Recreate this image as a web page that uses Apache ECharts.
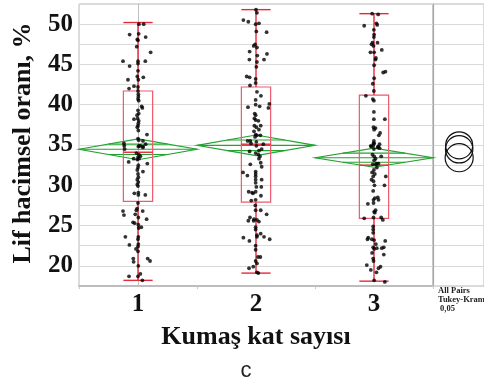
<!DOCTYPE html>
<html>
<head>
<meta charset="utf-8">
<script src="https://cdn.jsdelivr.net/npm/echarts@6/dist/echarts.min.js"></script>
<style>
  html, body { margin: 0; padding: 0; background: #fff; }
  #chart { width: 484px; height: 385px; }
</style>
</head>
<body>
<div id="chart"></div>
<script>
// Groups on the x axis (number of fabric layers)
const categories = ['1', '2', '3'];

// Value axis range and tick step (labels every second tick)
const yMin = 17.5;
const yMax = 52.5;
const yStep = 2.5;

// Five-number summaries per group: [min, Q1, median, Q3, max]
const boxStats = [
  [18.2, 28.0, 34.1, 41.7, 50.2],
  [19.1, 27.9, 35.1, 42.2, 51.8],
  [18.1, 25.9, 32.5, 41.2, 51.3]
];

// Group means, 95% CI half-widths (diamonds) and overlap-mark offsets
const groupMeans = [34.47, 34.96, 33.42];
const ciHalfWidth = [1.30, 1.28, 1.18];
const overlapOffset = [0.65, 0.66, 0.56];

// Tukey-Kramer comparison circle radii (value units)
const circleRadius = [1.70, 1.68, 1.74];

// Observations per group, with the horizontal jitter used to draw them
const g1Values = [50.0, 50.0, 48.7, 48.8, 48.4, 48.1, 48.0, 47.2, 46.5, 45.4, 45.4, 45.4, 45.1, 44.8, 44.2,
  43.1, 43.5, 43.1, 43.4, 42.3, 42.0, 42.2, 41.7, 41.3, 41.0, 40.7, 40.5, 39.8, 39.6, 39.3, 38.9, 38.7,
  38.2, 38.3, 38.0, 37.7, 37.4, 37.2, 36.8, 36.3, 35.8, 35.6, 35.5, 35.1, 34.9, 34.8, 34.8, 34.9, 35.2,
  34.9, 34.7, 34.5, 34.0, 33.8, 33.6, 33.5, 33.3, 33.2, 33.3, 32.9, 32.7, 32.5, 32.2, 31.9, 31.4, 31.7,
  31.0, 30.7, 30.4, 30.1, 29.9, 29.0, 29.1, 28.8, 28.8, 27.8, 27.1, 26.9, 26.8, 26.8, 26.3, 26.4, 26.0,
  25.8, 25.4, 25.3, 25.1, 24.7, 24.8, 23.6, 23.6, 23.3, 22.6, 22.7, 22.4, 22.1, 21.8, 20.9, 20.9, 20.6,
  20.5, 20.0, 19.0, 18.7, 18.7, 18.2];
const g1Jitter = [0.008, 0.048, -0.071, 0.006, 0.065, -0.006, 0, -0.011, 0.107, -0.127, 0, 0.062, 0, -0.071, 0,
  -0.085, -0.006, 0.003, 0.045, -0.034, -0.076, 0, 0, 0.003, 0.003, 0, 0.006, 0.031, 0.037, 0, 0.006, -0.008,
  -0.034, -0.003, 0.006, 0.003, 0, -0.006, 0.003, 0.076, 0, 0.006, 0.042, 0.065, -0.116, 0.003, 0.042, 0.02, -0.119,
  0.008, 0.042, -0.113, -0.014, 0.008, 0.02, 0, -0.037, -0.006, 0.008, -0.079, 0.079, 0.003, 0, -0.006, 0, 0.042,
  0.003, -0.006, 0.003, -0.006, 0, -0.031, 0.003, 0.062, 0.003, 0, -0.008, -0.014, -0.127, 0.04, -0.119, -0.023, 0.003,
  0.073, -0.042, -0.028, 0.003, 0.006, 0.028, -0.107, 0.003, 0, -0.073, 0.003, 0, -0.017, 0, -0.04, 0.082, 0.102,
  -0.037, 0.003, 0.02, -0.076, 0, 0.037];

const g2Values = [51.8, 51.4, 50.5, 50.3, 50.0, 50.1, 49.1, 49.0, 47.5, 47.3, 47.1, 46.6, 46.3, 46.1, 45.6,
  45.6, 45.3, 44.7, 43.5, 43.4, 43.2, 42.7, 42.4, 41.6, 41.1, 40.6, 40.1, 39.7, 40.0, 39.8, 39.6, 38.9,
  38.7, 38.3, 38.1, 38.0, 37.4, 37.4, 37.2, 36.9, 36.7, 36.3, 36.2, 36.2, 36.0, 35.5, 35.5, 35.4, 35.1,
  34.9, 35.2, 34.2, 34.3, 34.0, 33.8, 33.6, 34.5, 33.3, 32.6, 32.8, 32.3, 31.6, 31.7, 31.4, 31.2, 31.1,
  30.7, 30.7, 30.3, 29.8, 29.8, 29.2, 29.1, 29.0, 29.2, 28.7, 28.1, 28.2, 27.5, 26.9, 26.9, 26.4, 26.0,
  25.6, 25.8, 25.7, 25.5, 25.6, 24.8, 24.5, 24.0, 23.5, 23.1, 23.8, 23.6, 23.6, 23.3, 22.5, 22.0, 21.1,
  21.1, 20.6, 20.3, 19.9, 19.7, 19.2, 19.1];
const g2Jitter = [0, 0.008, -0.107, -0.065, -0.003, 0.025, 0.003, 0.09, -0.008, -0.02, 0.008, -0.054, 0.093, 0.011, -0.056,
  0.068, 0.008, 0.003, -0.079, -0.054, -0.003, -0.003, -0.051, 0.008, 0.042, -0.003, 0.113, -0.068, -0.003, 0.031, 0.105, -0.011,
  -0.003, -0.014, -0.003, 0.02, 0.04, -0.014, 0.003, 0.025, -0.017, -0.003, 0.008, 0.037, -0.008, -0.071, -0.048, 0.003, 0.062,
  0.003, -0.042, -0.054, 0.025, -0.003, 0.02, 0.034, 0.048, 0.025, -0.048, 0.04, 0.048, -0.11, -0.003, -0.003, -0.073, -0.003,
  -0.003, 0.048, -0.003, 0.003, 0.045, -0.062, -0.034, -0.025, -0.003, 0.042, -0.04, -0.003, -0.006, -0.003, 0.04, 0.09, -0.051,
  -0.065, -0.017, 0.008, 0.025, -0.02, -0.003, -0.003, 0.04, -0.107, -0.056, 0.008, 0.008, 0.068, 0.116, -0.003, -0.003, 0.017,
  0.037, -0.003, 0.008, -0.023, -0.059, 0.008, 0.02];

const g3Values = [51.3, 51.2, 49.8, 50.1, 49.9, 49.3, 48.7, 48.4, 47.7, 47.7, 47.5, 47.3, 46.8, 46.5, 46.5,
  45.8, 45.6, 44.9, 44.1, 44.0, 43.3, 42.6, 41.7, 41.1, 40.7, 40.5, 39.1, 38.2, 38.2, 37.2, 37.1, 36.9,
  36.5, 36.2, 35.5, 35.2, 34.8, 34.9, 34.7, 34.6, 34.9, 35.2, 35.1, 34.8, 34.5, 33.8, 33.6, 33.6, 33.3,
  33.1, 32.7, 32.7, 32.6, 32.6, 32.2, 31.9, 31.6, 31.4, 31.1, 31.1, 30.7, 30.5, 30.0, 30.0, 29.3, 28.4,
  28.5, 28.2, 28.2, 27.8, 27.7, 26.9, 26.7, 26.6, 25.9, 26.0, 26.0, 25.7, 24.9, 24.5, 24.1, 23.5, 23.3,
  23.3, 23.2, 23.1, 22.7, 22.3, 22.3, 22.1, 22.2, 22.2, 21.6, 21.4, 20.9, 20.6, 20.1, 19.9, 19.7, 19.5,
  19.2, 18.2, 18.0];
const g3Jitter = [-0.016, 0.035, -0.083, 0.021, 0.027, -0.001, 0.001, -0.001, -0.013, 0.03, -0.021, -0.004, 0.066, -0.03, 0.001,
  0.016, 0.013, 0.001, 0.097, 0.078, 0.001, -0.01, -0.001, -0.069, -0.01, -0.001, -0.001, -0.001, 0.092, -0.004, 0.013, 0.001,
  0.052, 0.041, -0.001, 0.001, -0.024, -0.007, 0.032, 0.047, -0.027, -0.004, 0.047, 0.035, -0.001, -0.013, 0.001, 0.061, 0.013,
  0.001, 0.024, 0.038, -0.01, 0.016, 0.024, -0.001, -0.016, 0.007, 0.1, -0.007, -0.021, -0.004, 0.089, 0.004, -0.007, 0.007,
  0.032, 0.038, -0.004, -0.004, -0.052, 0.013, 0.001, 0.007, -0.083, -0.004, 0.061, 0.075, -0.007, -0.007, -0.007, -0.049, -0.055,
  -0.018, 0.001, 0.095, 0.016, -0.007, 0.083, 0.001, 0.024, 0.066, -0.016, 0.083, -0.007, -0.004, -0.061, 0.055, 0.038, -0.027,
  0.021, 0.001, 0.092];

const groups = [[g1Values, g1Jitter], [g2Values, g2Jitter], [g3Values, g3Jitter]];

const RED = '#e8283c';
const BOX_RED = '#ef5a6c';
const GREEN = '#22a22f';
const GRID_GRAY = '#d9d9d9';
const FRAME_GRAY = '#b8b8b8';
const SERIF = "'Liberation Serif', 'DejaVu Serif', serif";
const BOX_HALF = 0.124; // box half-width in category units

const pointData = [];
groups.forEach(function (g, i) {
  g[0].forEach(function (v, k) { pointData.push([i + g[1][k], v]); });
});

const diamondData = groupMeans.map(function (m, i) {
  return [i, m, ciHalfWidth[i], overlapOffset[i]];
});
const boxData = boxStats.map(function (s, i) { return [i].concat(s); });
const circleData = groupMeans.map(function (m, i) { return [0.513, m, circleRadius[i]]; });

function renderDiamond(params, api) {
  const i = api.value(0), m = api.value(1), h = api.value(2), o = api.value(3);
  const L = api.coord([i - 0.5, m]);
  const R = api.coord([i + 0.5, m]);
  const T = api.coord([i, m + h]);
  const B = api.coord([i, m - h]);
  const cx = T[0];
  const halfW = (R[0] - L[0]) / 2;
  const f = 1 - o / h;
  const yUp = api.coord([i, m + o])[1];
  const yDn = api.coord([i, m - o])[1];
  const style = { stroke: GREEN, fill: null, lineWidth: 1.2 };
  return {
    type: 'group',
    children: [
      { type: 'polygon', shape: { points: [L, T, R, B] }, style: style },
      { type: 'line', shape: { x1: L[0], y1: L[1], x2: R[0], y2: R[1] }, style: style },
      { type: 'line', shape: { x1: cx - halfW * f, y1: yUp, x2: cx + halfW * f, y2: yUp }, style: style },
      { type: 'line', shape: { x1: cx - halfW * f, y1: yDn, x2: cx + halfW * f, y2: yDn }, style: style }
    ]
  };
}

function renderBox(params, api) {
  const i = api.value(0);
  const lo = api.coord([i, api.value(1)]);
  const q1 = api.coord([i, api.value(2)]);
  const med = api.coord([i, api.value(3)]);
  const q3 = api.coord([i, api.value(4)]);
  const hi = api.coord([i, api.value(5)]);
  const xl = api.coord([i - BOX_HALF, api.value(3)])[0];
  const xr = api.coord([i + BOX_HALF, api.value(3)])[0];
  const cx = med[0];
  const red = { stroke: RED, lineWidth: 1.4 };
  return {
    type: 'group',
    children: [
      { type: 'rect', shape: { x: xl, y: q3[1], width: xr - xl, height: q1[1] - q3[1] },
        style: { stroke: BOX_RED, fill: null, lineWidth: 1.2 } },
      { type: 'line', shape: { x1: cx, y1: q3[1], x2: cx, y2: hi[1] }, style: red },
      { type: 'line', shape: { x1: cx, y1: q1[1], x2: cx, y2: lo[1] }, style: red },
      { type: 'line', shape: { x1: xl, y1: hi[1], x2: xr, y2: hi[1] }, style: red },
      { type: 'line', shape: { x1: xl, y1: lo[1], x2: xr, y2: lo[1] }, style: red },
      { type: 'line', shape: { x1: xl, y1: med[1], x2: xr, y2: med[1] }, style: red }
    ]
  };
}

function renderCircle(params, api) {
  const c = api.coord([api.value(0), api.value(1)]);
  const r = api.size([0, api.value(2)])[1];
  return {
    type: 'circle',
    shape: { cx: c[0], cy: c[1], r: r },
    style: { stroke: '#111', fill: null, lineWidth: 1.2 }
  };
}

const chart = echarts.init(document.getElementById('chart'), null, { renderer: 'canvas' });

const yAxisCommon = {
  type: 'value', min: yMin, max: yMax, interval: yStep,
  splitLine: { show: true, lineStyle: { color: GRID_GRAY, width: 1 } },
  axisTick: { show: false }
};

chart.setOption({
  animation: false,
  backgroundColor: '#fff',
  grid: [
    { left: 79, top: 4, width: 354, height: 282, show: true, borderColor: FRAME_GRAY, borderWidth: 1 },
    { left: 433, top: 4, width: 60, height: 282, show: true, borderColor: FRAME_GRAY, borderWidth: 1 }
  ],
  xAxis: [
    {
      type: 'category', gridIndex: 0, data: categories, boundaryGap: true,
      axisLine: { show: true, lineStyle: { color: '#bdbdbd', width: 2 } },
      axisTick: { show: true, length: 3, lineStyle: { color: '#c8c8c8' } },
      axisLabel: { color: '#111', fontFamily: SERIF, fontWeight: 'bold', fontSize: 25, margin: 6 },
      splitLine: { show: false }
    },
    { type: 'value', gridIndex: 0, min: -0.5, max: 2.5, show: false },
    { type: 'value', gridIndex: 1, min: 0, max: 1, show: false }
  ],
  yAxis: [
    Object.assign({}, yAxisCommon, {
      gridIndex: 0,
      axisLine: { show: true, lineStyle: { color: '#c0c0c0', width: 1 } },
      axisLabel: {
        color: '#111', fontFamily: SERIF, fontWeight: 'bold', fontSize: 25, margin: 6,
        formatter: function (v) { return v % 5 === 0 ? String(v) : ''; }
      }
    }),
    Object.assign({}, yAxisCommon, {
      gridIndex: 1,
      axisLine: { show: true, lineStyle: { color: '#a8a8a8', width: 1.2 } },
      axisLabel: { show: false }
    })
  ],
  series: [
    { type: 'custom', name: 'means', xAxisIndex: 1, yAxisIndex: 0, renderItem: renderDiamond,
      data: diamondData, z: 2, clip: false },
    { type: 'custom', name: 'quantiles', xAxisIndex: 1, yAxisIndex: 0, renderItem: renderBox,
      data: boxData, z: 3, clip: false },
    { type: 'scatter', name: 'observations', xAxisIndex: 1, yAxisIndex: 0, data: pointData,
      symbol: 'circle', symbolSize: 3.8, itemStyle: { color: '#000' }, z: 4 },
    { type: 'custom', name: 'comparison circles', xAxisIndex: 2, yAxisIndex: 1, renderItem: renderCircle,
      data: circleData, z: 4, clip: false }
  ],
  graphic: [
    { type: 'text', x: 23, y: 143, rotation: Math.PI / 2,
      style: { text: 'Lif hacimsel oranı, %', fill: '#111', font: 'bold 26px ' + SERIF,
        textAlign: 'center', textVerticalAlign: 'middle' } },
    { type: 'text', x: 256, y: 337,
      style: { text: 'Kumaş kat sayısı', fill: '#111', font: 'bold 26px ' + SERIF,
        textAlign: 'center', textVerticalAlign: 'middle' } },
    { type: 'text', x: 246, y: 371,
      style: { text: 'c', fill: '#222', font: "22px 'Liberation Sans', 'Open Sans', sans-serif",
        textAlign: 'center', textVerticalAlign: 'middle' } },
    { type: 'text', x: 438, y: 291,
      style: { text: 'All Pairs', fill: '#222', font: 'bold 8.5px ' + SERIF, textVerticalAlign: 'middle' } },
    { type: 'text', x: 438, y: 300,
      style: { text: 'Tukey-Kramer', fill: '#222', font: 'bold 8.5px ' + SERIF, textVerticalAlign: 'middle' } },
    { type: 'text', x: 440, y: 309,
      style: { text: '0,05', fill: '#222', font: 'bold 8.5px ' + SERIF, textVerticalAlign: 'middle' } }
  ]
});
</script>
</body>
</html>
